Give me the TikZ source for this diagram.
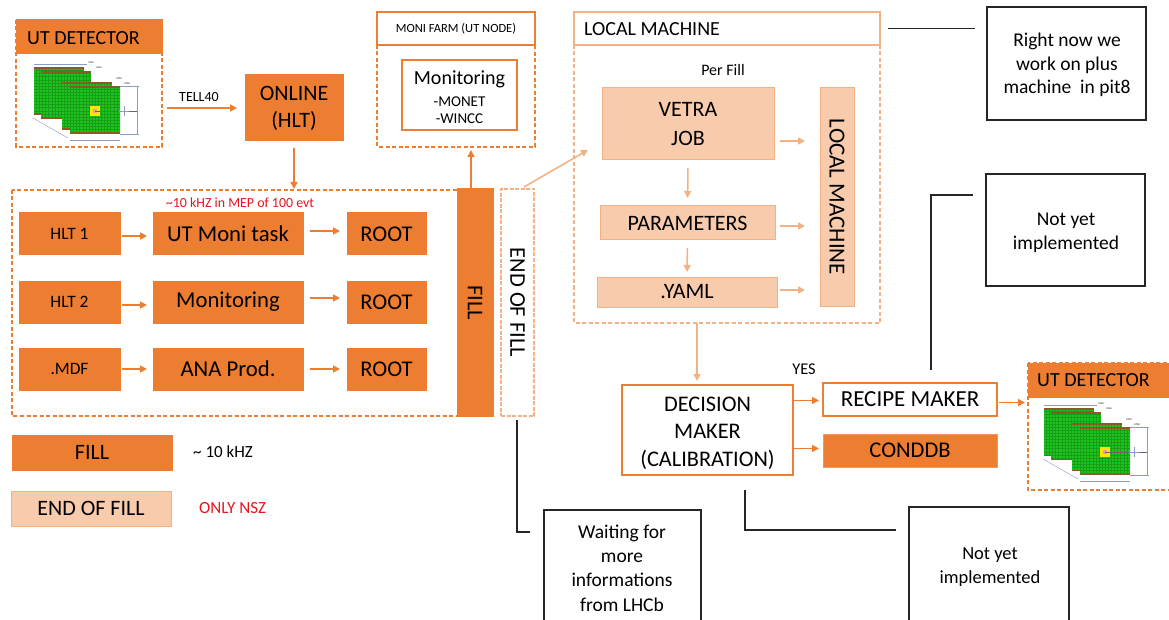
\documentclass[tikz,border=0pt]{standalone}
\usepackage{fontspec}
\setmainfont{Carlito}
\usetikzlibrary{arrows.meta,calc}
\definecolor{ora}{HTML}{ED7D31}
\definecolor{peach}{HTML}{F8CBAD}
\definecolor{peachln}{HTML}{F4B183}
\definecolor{redtxt}{HTML}{E8141E}
\definecolor{detgreen}{HTML}{1DC41D}
\definecolor{gridgreen}{HTML}{169E18}
\definecolor{detbrown}{HTML}{8A5A22}
\definecolor{dimblue}{HTML}{8E9CC4}
\newcommand\fsz[2]{\fontsize{#1pt}{#2pt}\selectfont}
\tikzset{
  utplanes/.pic={
    % dimension lines
    \draw[dimblue, line width=0.4pt] (1,3) -- (54,3);
    \draw[dimblue, line width=0.4pt] (87,25) -- (106,25) (87,73) -- (106,73) (104,25) -- (104,73);
    \draw[dimblue, line width=0.4pt] (37,79) -- (87,79);
    \draw[dimblue, line width=0.4pt] (0,57) -- (35,77);
    % detector planes, back to front
    \foreach \px/\py in {1/6, 8/10, 29/21, 37/25}{
      \begin{scope}
        \clip (\px,\py) rectangle ++(50,48);
        \fill[detgreen] (\px,\py) rectangle ++(50,48);
        \draw[gridgreen, line width=0.15pt, step=3.1pt] (\px,\py) grid ++(50,48);
        \fill[detbrown] (\px,\py) rectangle ++(50,2.2);
        \fill[detbrown] (\px,\py) ++(0,46.5) rectangle ++(50,1.5);
      \end{scope}
    }
    % beam-pipe region
    \fill[yellow!90!orange] (57,45) rectangle (67,55);
    \fill[pink!80!red] (60,48) rectangle (64,52);
    \draw[black!60, line width=0.3pt] (62,50) -- (104,50);
    \draw[dimblue, line width=0.5pt] (91,45) -- (91,55) (86,50) -- (96,50);
    % plane labels
    \node[font=\fsz{2.6}{3}, inner sep=0pt] (lab1) at (58,2) {UTaX};
    \node[font=\fsz{2.6}{3}, inner sep=0pt] (lab2) at (66,7) {UTaU};
    \node[font=\fsz{2.6}{3}, inner sep=0pt] (lab3) at (86,18) {UTbV};
    \node[font=\fsz{2.6}{3}, inner sep=0pt] (lab4) at (94,23) {UTbX};
  }
}
\begin{document}
\begin{tikzpicture}[x=1pt,y=-1pt,
  box/.style={anchor=north west, inner sep=0pt, outer sep=0pt, align=center},
  orabox/.style={box, fill=ora, draw=ora, line width=1pt},
  peachbox/.style={box, fill=peach, draw=peachln, line width=1pt},
  whitebox/.style={box, fill=white, draw=ora, line width=1.6pt},
  notebox/.style={box, fill=white, draw=black!85, line width=1.4pt},
  dashora/.style={draw=ora, line width=1.5pt, dash pattern=on 4pt off 2.5pt},
  dashpeach/.style={draw=peachln, line width=1.3pt, dash pattern=on 4pt off 2.5pt},
  arr/.style={draw=ora, line width=1.6pt, -{Triangle[length=7pt,width=7pt]}},
  parr/.style={draw=peachln, line width=1.6pt, -{Triangle[length=7pt,width=7pt]}},
  blk/.style={draw=black!85, line width=1.4pt},
  lbl/.style={inner sep=0pt, align=center}
]
\useasboundingbox (0,0) rectangle (1169,620);
\clip (0,0) rectangle (1169,620);

% ---------- UT detector (input) ----------
\draw[dashora] (16,20) rectangle (162,147);
\node[orabox, minimum width=146pt, minimum height=34pt] (utLhead) at (16,20) {};
\node[lbl, anchor=west, font=\fsz{20}{24}] (utLtxt) at (27,38) {UT DETECTOR};
\pic at (33,61) {utplanes};
\coordinate (utL) at (162,108);

% ---------- Online ----------
\node[orabox, minimum width=98pt, minimum height=66pt, font=\fsz{22}{27}] (online) at (245,75) {ONLINE\\(HLT)};
\draw[arr, shorten <=5pt, shorten >=8pt] (utL) -- (online.west |- utL);
\node[lbl, font=\fsz{14}{16}] (tell) at (199,97) {TELL40};

% ---------- Fill processing block ----------
\draw[dashora] (12,190) rectangle (460,416);
\node[lbl, font=\fsz{13.9}{16}, text=redtxt] (rate) at (240,203) {\textasciitilde10 kHZ in MEP of 100 evt};

\node[orabox, minimum width=101pt, minimum height=42pt, font=\fsz{17.4}{20}] (hlta) at (19,213) {HLT 1};
\node[orabox, minimum width=150pt, minimum height=42pt, font=\fsz{22.7}{26}] (utmoni) at (153,213) {UT Moni task};
\node[orabox, minimum width=79pt, minimum height=42pt, font=\fsz{22.5}{26}] (roota) at (347,213) {ROOT};

\node[orabox, minimum width=101pt, minimum height=42pt, font=\fsz{17.4}{20}] (hltb) at (19,281) {HLT 2};
\node[orabox, minimum width=150pt, minimum height=42pt, font=\fsz{22.7}{26}] (monib) at (153,281) {Monitoring};
\node[orabox, minimum width=79pt, minimum height=42pt, font=\fsz{22.5}{26}] (rootb) at (347,281) {ROOT};

\node[orabox, minimum width=101pt, minimum height=42pt, font=\fsz{17.4}{20}] (mdf) at (19,348) {.MDF};
\node[orabox, minimum width=150pt, minimum height=42pt, font=\fsz{22.7}{26}] (ana) at (153,348) {ANA Prod.};
\node[orabox, minimum width=79pt, minimum height=42pt, font=\fsz{22.5}{26}] (rootc) at (347,348) {ROOT};

\draw[arr, shorten <=2pt, shorten >=6pt] ([yshift=-2pt]hlta.east) -- ([yshift=-2pt]utmoni.west);
\draw[arr, shorten <=7pt, shorten >=7pt] ([yshift=3pt]utmoni.east) -- ([yshift=3pt]roota.west);
\draw[arr, shorten <=2pt, shorten >=6pt] ([yshift=-3pt]hltb.east) -- ([yshift=-3pt]monib.west);
\draw[arr, shorten <=7pt, shorten >=7pt] ([yshift=4pt]monib.east) -- ([yshift=4pt]rootb.west);
\draw[arr, shorten <=2pt, shorten >=6pt] (mdf.east) -- (ana.west);
\draw[arr, shorten <=7pt, shorten >=7pt] (ana.east) -- (rootc.west);

\node[orabox, minimum width=36pt, minimum height=227pt] (fillbar) at (457,189) {};
\node[lbl, rotate=-90, font=\fsz{22.5}{26}] (filltxt) at (fillbar.center) {FILL};
\node[box, fill=white, draw=peachln, line width=1.3pt, dash pattern=on 4pt off 1.5pt, minimum width=33pt, minimum height=227pt] (eof) at (501,189) {};
\node[lbl, rotate=-90, font=\fsz{22.5}{26}] (eoftxt) at (eof.center) {END OF FILL};

\draw[arr, shorten <=7pt, shorten >=1pt] (online.south) -- (online.south |- 0,190);

% ---------- Moni farm ----------
\draw[dashora] (377,45) rectangle (535,147);
\node[box, draw=ora, line width=1.5pt, fill=white, minimum width=158pt, minimum height=33pt, font=\fsz{12.5}{14}] (moni) at (377,12) {MONI FARM (UT NODE)};
\coordinate (monibot) at (471,147);
\node[whitebox, minimum width=115pt, minimum height=70pt] (monitor) at (402,60) {};
\node[lbl, font=\fsz{15}{17}] (monitortxt) at ([yshift=-2pt]monitor.center) {{\fsz{20}{22}Monitoring}\\[5pt]-MONET\\-WINCC};
\draw[arr, shorten >=3pt] ([xshift=-4pt]fillbar.north) -- (monibot);

% ---------- Local machine ----------
\draw[dashpeach] (574,45) rectangle (880,323);
\node[box, draw=peachln, line width=1.3pt, fill=white, minimum width=306pt, minimum height=33pt] (lmhead) at (574,12) {};
\node[lbl, anchor=west, font=\fsz{20}{24}] (lmtxt) at (584,29) {LOCAL MACHINE};
\node[lbl, font=\fsz{16}{18}] (perfill) at (723,70) {Per Fill};
\node[peachbox, minimum width=172pt, minimum height=72pt, font=\fsz{22}{29}] (vetra) at (602,88) {VETRA\\JOB};
\node[peachbox, minimum width=175pt, minimum height=34pt, font=\fsz{22}{24}] (params) at (600,206) {PARAMETERS};
\node[peachbox, minimum width=180pt, minimum height=30pt, font=\fsz{22}{24}] (yaml) at (597,277) {.YAML};
\node[peachbox, minimum width=34pt, minimum height=218pt] (lmv) at (820,88) {};
\node[lbl, rotate=-90, font=\fsz{23}{26}] (lmvtxt) at (lmv.center) {LOCAL MACHINE};

\draw[parr, shorten <=8pt, shorten >=8pt] (vetra.south) -- (params.north);
\draw[parr, shorten <=8pt, shorten >=5pt] (params.south) -- ([xshift=-0.5pt]params.south |- yaml.north);
\draw[parr, shorten <=6pt, shorten >=15pt] ([yshift=-17pt]vetra.east) -- ([yshift=-17pt]vetra.east -| lmv.west);
\draw[parr, shorten <=5pt, shorten >=15pt] ([yshift=-3pt]params.east) -- ([yshift=-3pt]params.east -| lmv.west);
\draw[parr, shorten <=3pt, shorten >=15pt] ([yshift=2pt]yaml.east) -- ([yshift=2pt]yaml.east -| lmv.west);

\coordinate (lmin) at (588,150);
\draw[parr, shorten <=4pt] ([xshift=3pt]eof.north) -- (lmin);

% ---------- Decision ----------
\node[whitebox, minimum width=171pt, minimum height=90pt] (dec) at (622,385) {};
\node[lbl, font=\fsz{22.3}{27.5}] (dectxt) at ([yshift=-3pt]dec.center) {DECISION\\MAKER\\(CALIBRATION)};
\coordinate (lmbot) at (697,323);
\draw[parr, shorten >=4pt] (lmbot) -- (lmbot |- dec.north);
\node[whitebox, minimum width=174pt, minimum height=33pt, font=\fsz{23}{26}] (recipe) at (823,383) {RECIPE MAKER};
\node[orabox, draw=ora!80, minimum width=174pt, minimum height=33pt, font=\fsz{22.5}{26}] (conddb) at (823,434) {CONDDB};
\node[lbl, font=\fsz{16.4}{18}] (yes) at (804,369) {YES};
\draw[arr, shorten <=0pt, shorten >=4pt] ([yshift=-1pt]dec.east |- recipe.west) -- ([yshift=-1pt]recipe.west);
\draw[arr, shorten <=0pt, shorten >=4pt] (dec.east |- conddb.west) ++(0,-2) -- ([yshift=2pt]conddb.west);

% ---------- UT detector (output) ----------
\draw[dashora] (1028,363) rectangle (1175,490);
\node[orabox, minimum width=150pt, minimum height=34pt] (utRhead) at (1028,363) {};
\node[lbl, anchor=west, font=\fsz{20}{24}] (utRtxt) at (1037,380) {UT DETECTOR};
\pic at (1043,402) {utplanes};
\draw[arr, shorten <=2pt, shorten >=3pt] ([yshift=-3pt]recipe.east) -- ([yshift=-3pt]recipe.east -| utRhead.west) ;

% ---------- Notes ----------
\node[notebox, minimum width=159pt, minimum height=113pt] (noteA) at (987,7) {};
\node[lbl, font=\fsz{19.5}{23.5}] (noteAtxt) at (1067,65) {Right now we\\work on plus\\machine\ \ in pit8};
\draw[blk, shorten <=8pt, shorten >=12pt] (lmhead.east) -- (lmhead.east -| noteA.west);

\node[notebox, minimum width=159pt, minimum height=112pt] (noteB) at (986,174) {};
\node[lbl, font=\fsz{19.5}{24}] (noteBtxt) at (1066,233) {Not yet\\implemented};
\coordinate (rB) at (931,370);
\coordinate (rBend) at (973,195);
\draw[blk] (rB) |- (rBend);

\node[notebox, minimum width=157pt, minimum height=140pt] (noteC) at (544,510) {};
\node[lbl, font=\fsz{19.5}{24.4}] (noteCtxt) at (622,568) {Waiting for\\more\\informations\\from LHCb};
\coordinate (eofbot) at (517,420);
\coordinate (cEnd) at (530,532);
\draw[blk] (eofbot) |- (cEnd);

\node[notebox, minimum width=160pt, minimum height=140pt] (noteD) at (909,507) {};
\node[lbl, font=\fsz{18.5}{24}] (noteDtxt) at (990,567) {Not yet\\implemented};
\coordinate (decbot) at (745,490);
\coordinate (dEnd) at (896,530);
\draw[blk] (decbot) |- (dEnd);

% ---------- Legend ----------
\node[orabox, minimum width=160pt, minimum height=35pt, font=\fsz{22}{24}] (legfill) at (12,435) {FILL};
\node[lbl, anchor=west, font=\fsz{17}{20}] (legfilltxt) at (193,452) {\textasciitilde\ 10 kHZ};
\node[peachbox, minimum width=160pt, minimum height=35pt, font=\fsz{22}{24}] (legeof) at (11,491) {END OF FILL};
\node[lbl, anchor=west, font=\fsz{17}{20}, text=redtxt] (legeoftxt) at (199,508) {ONLY NSZ};
\end{tikzpicture}
\end{document}
